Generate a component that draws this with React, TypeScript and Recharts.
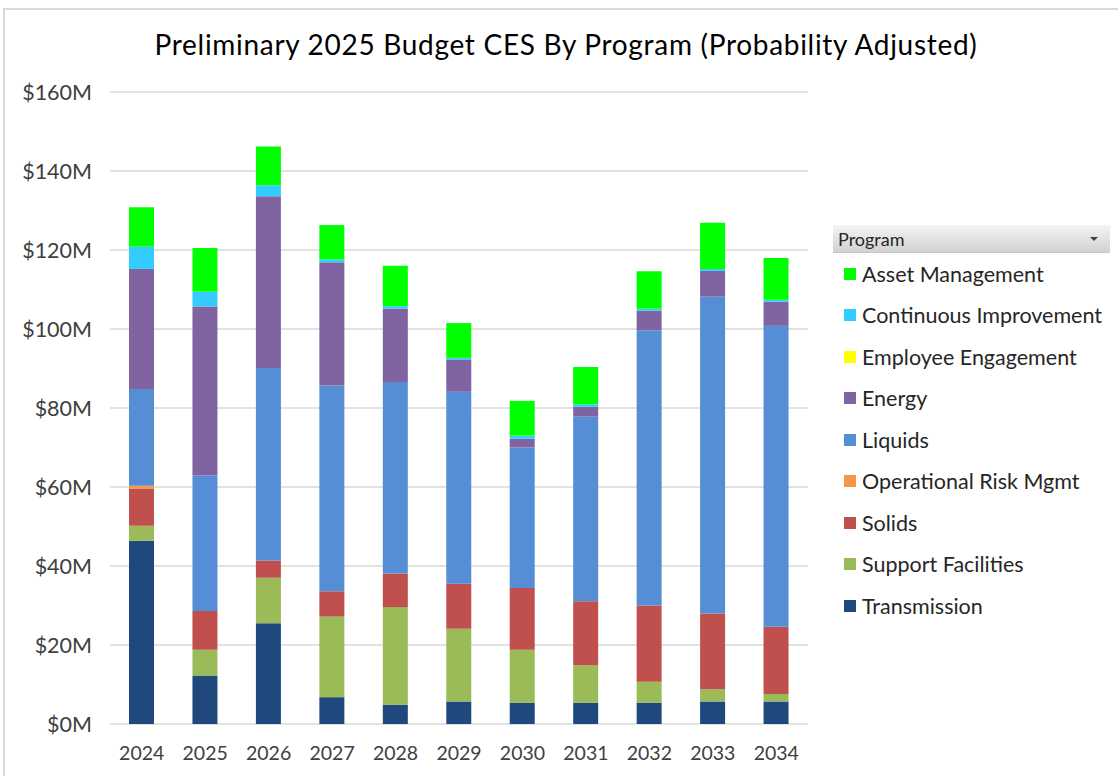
import React from 'react';
import { BarChart, Bar, XAxis, YAxis, CartesianGrid } from 'recharts';

const years = ['2024', '2025', '2026', '2027', '2028', '2029', '2030', '2031', '2032', '2033', '2034'];
const transmission = [46.4, 12.3, 25.5, 6.8, 4.9, 5.7, 5.4, 5.4, 5.4, 5.7, 5.7];
const supportFacilities = [3.8, 6.5, 11.5, 20.4, 24.7, 18.4, 13.4, 9.5, 5.3, 3.1, 1.9];
const solids = [9.4, 9.8, 4.4, 6.4, 8.5, 11.4, 15.6, 16.2, 19.3, 19.2, 17.0];
const operationalRiskMgmt = [0.7, 0, 0, 0, 0, 0, 0, 0, 0, 0, 0];
const liquids = [24.5, 34.3, 48.7, 52.1, 48.5, 48.6, 35.6, 46.7, 69.7, 80.2, 76.2];
const energy = [30.4, 42.8, 43.5, 31.2, 18.6, 8.2, 2.2, 2.5, 4.9, 6.5, 6.1];
const employeeEngagement = [0, 0, 0, 0, 0, 0, 0, 0, 0, 0, 0];
const continuousImprovement = [5.6, 3.7, 2.8, 0.7, 0.6, 0.4, 0.8, 0.6, 0.5, 0.5, 0.5];
const assetManagement = [10.0, 11.1, 9.8, 8.7, 10.2, 8.8, 8.8, 9.5, 9.5, 11.7, 10.6];
const yTicks = [0, 20, 40, 60, 80, 100, 120, 140, 160];

// stacking order bottom -> top
const series = [
  { key: 'Transmission', values: transmission, color: '#1f497d' },
  { key: 'Support Facilities', values: supportFacilities, color: '#9bbb59' },
  { key: 'Solids', values: solids, color: '#c0504d' },
  { key: 'Operational Risk Mgmt', values: operationalRiskMgmt, color: '#f79646' },
  { key: 'Liquids', values: liquids, color: '#558ed5' },
  { key: 'Energy', values: energy, color: '#8064a2' },
  { key: 'Employee Engagement', values: employeeEngagement, color: '#ffff00' },
  { key: 'Continuous Improvement', values: continuousImprovement, color: '#33ccff' },
  { key: 'Asset Management', values: assetManagement, color: '#00ff00' },
];

const data = years.map((year, i) => {
  const row: Record<string, any> = { year };
  series.forEach((s) => {
    row[s.key] = s.values[i];
  });
  return row;
});

const FONT = 'Lato, "Open Sans", sans-serif';

const LegendBox = () => {
  const items = [...series].reverse();
  return (
    <div style={{ fontFamily: FONT, width: 277 }}>
      <div
        style={{
          height: 28,
          boxSizing: 'border-box',
          background: 'linear-gradient(#f4f4f4, #d2d2d2)',
          borderBottom: '1px solid #c8c8c8',
          position: 'relative',
          fontSize: 18,
          color: '#262626',
          lineHeight: '28px',
          paddingLeft: 5,
        }}
      >
        Program
        <div
          style={{
            position: 'absolute',
            right: 12,
            top: 12,
            width: 0,
            height: 0,
            borderLeft: '4px solid transparent',
            borderRight: '4px solid transparent',
            borderTop: '4px solid #404040',
          }}
        />
      </div>
      <div style={{ paddingTop: 0 }}>
        {items.map((s) => (
          <div key={s.key} style={{ height: 41.5, display: 'flex', alignItems: 'center' }}>
            <div style={{ width: 12, height: 12, background: s.color, marginLeft: 11, marginRight: 6 }} />
            <span style={{ fontSize: 21.5, color: '#262626', whiteSpace: 'nowrap' }}>{s.key}</span>
          </div>
        ))}
      </div>
    </div>
  );
};

export default function App() {
  return (
    <div style={{ position: 'fixed', left: 0, top: 0, width: 1118, height: 776, background: '#fff', overflow: 'hidden' }}>
      <div
        style={{
          position: 'absolute',
          left: 3,
          top: 8,
          width: 1130,
          height: 800,
          border: '2px solid #d9d9d9',
          boxSizing: 'border-box',
        }}
      />
      <div
        style={{
          position: 'absolute',
          left: 0,
          width: 1132,
          top: 27,
          textAlign: 'center',
          fontFamily: FONT,
          fontSize: 28,
          letterSpacing: 0.7,
          color: '#000',
        }}
      >
        Preliminary 2025 Budget CES By Program (Probability Adjusted)
      </div>
      <div style={{ position: 'absolute', left: 0, top: 0 }}>
        <BarChart
          width={1118}
          height={776}
          data={data}
          margin={{ top: 92, right: 310, bottom: 22, left: 10 }}
          barSize={25}
        >
          <CartesianGrid vertical={false} stroke="#d9d9d9" strokeWidth={1.5} />
          <XAxis
            dataKey="year"
            height={30}
            axisLine={false}
            tickLine={false}
            tickSize={0}
            tickMargin={22}
            tick={{ fontFamily: FONT, fontSize: 19.5, fill: '#404040' }}
          />
          <YAxis
            width={100}
            domain={[0, 160]}
            ticks={yTicks}
            axisLine={false}
            tickLine={false}
            tickSize={0}
            tickMargin={18}
            tickFormatter={(v: number) => `$${v}M`}
            tick={{ fontFamily: FONT, fontSize: 21.5, fill: '#404040' }}
          />
          {series.map((s) => (
            <Bar key={s.key} dataKey={s.key} stackId="a" fill={s.color} isAnimationActive={false} />
          ))}
        </BarChart>
      </div>
      <div style={{ position: 'absolute', left: 833, top: 225 }}>
        <LegendBox />
      </div>
    </div>
  );
}
